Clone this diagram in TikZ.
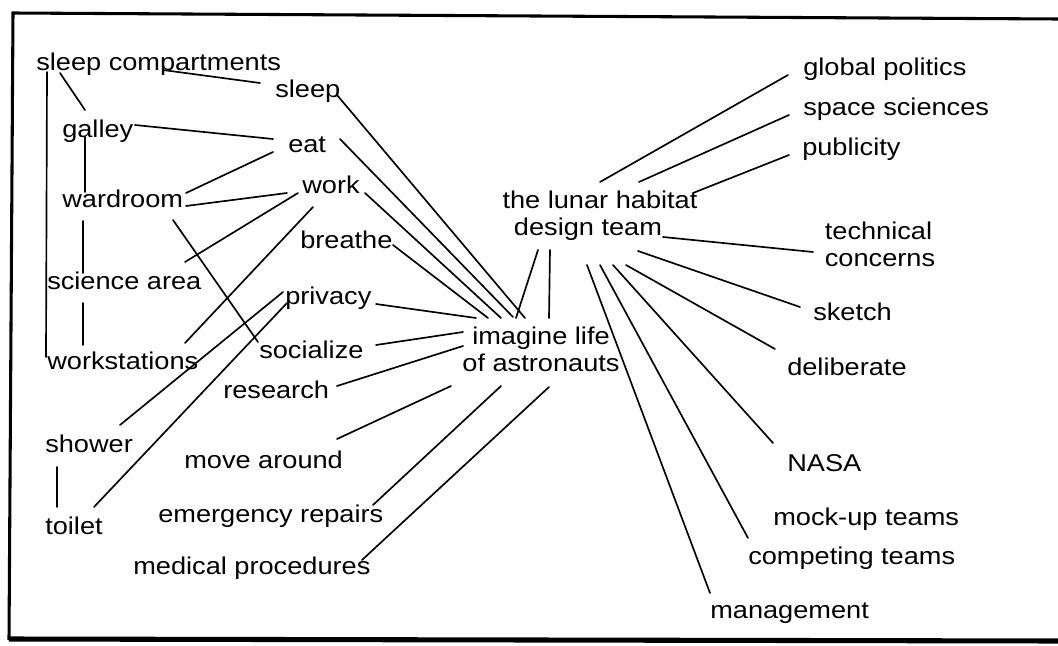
\documentclass[tikz,border=0pt]{standalone}
\usepackage{fontspec}
\setmainfont{Liberation Sans}[FakeStretch=1.12]
\begin{document}
\begin{tikzpicture}[x=0.75pt,y=-0.75pt,
  lbl/.style={inner sep=0pt,anchor=base west,font=\fontsize{18.2}{20.5}\selectfont},
  mlbl/.style={inner sep=0pt,anchor=center,font=\fontsize{18.2}{20.5}\selectfont},
  link/.style={line width=1.25pt,line cap=round},
  rim/.style={line width=2.3pt},
  heavyrim/.style={line width=3.8pt}]
\useasboundingbox (0,0) rectangle (1058,646);

% open frame: top, left and bottom rules
\draw[rim] (1058,19) -- (13,13) -- (9,640);
\draw[heavyrim] (9,639) -- (1058,641);

% left cluster: places and activities
\node[lbl] (sc) at (36,70) {sleep compartments};
\node[lbl] (sl) at (275,97) {sleep};
\node[lbl] (ga) at (62,137) {galley};
\node[lbl] (eat) at (288,152) {eat};
\node[lbl] (wr) at (62,207) {wardroom};
\node[lbl] (wk) at (302,193) {work};
\node[lbl] (br) at (300,248) {breathe};
\node[lbl] (sa) at (47,289) {science area};
\node[lbl] (pr) at (285,304) {privacy};
\node[lbl] (so) at (259,358) {socialize};
\node[lbl] (ws) at (47,369) {workstations};
\node[lbl] (rs) at (223,398) {research};
\node[lbl] (sh) at (45,452) {shower};
\node[lbl] (to) at (45,534) {toilet};
\node[lbl] (mv) at (184,468) {move around};
\node[lbl] (em) at (158,522) {emergency repairs};
\node[lbl] (md) at (133,574) {medical procedures};

% the two hubs
\node[mlbl,align=center] (im) at (541,349.5) {imagine life\\of astronauts};
\node[mlbl,align=center] (lh) at (600,215.5) {the lunar habitat\\design team\rule{18pt}{0pt}};

% right cluster: concerns of the team
\node[lbl] (gp) at (803,75) {global politics};
\node[lbl] (ss) at (803,115) {space sciences};
\node[lbl] (pu) at (802,155) {publicity};
\node[mlbl,align=left] (tc) at (880,244.5) {technical\\concerns};
\node[lbl] (sk) at (813,320) {sketch};
\node[lbl] (de) at (787,375) {deliberate};
\node[lbl] (na) at (787,471) {NASA};
\node[lbl] (mu) at (773,525) {mock-up teams};
\node[lbl] (ct) at (748,564) {competing teams};
\node[lbl] (mg) at (710,618) {management};

% links among places and activities
\draw[link] ([shift={(127,0)}]sc.base west) -- ([shift={(-15,-14)}]sl.base west);
\draw[link] ([shift={(24,3)}]sc.base west) -- ([shift={(23,-27)}]ga.base west);
\draw[link] ([shift={(11,2)}]sc.base west) -- ([shift={(-1,-12)}]ws.base west);
\draw[link] ([shift={(23,0)}]ga.base west) -- ([shift={(23,-15)}]wr.base west);
\draw[link] ([shift={(73,-12)}]ga.base west) -- ([shift={(-15,-13)}]eat.base west);
\draw[link] ([shift={(124,-14)}]wr.base west) -- ([shift={(-15,0)}]eat.base west);
\draw[link] ([shift={(124,-1)}]wr.base west) -- ([shift={(-15,0)}]wk.base west);
\draw[link] ([shift={(111,13)}]wr.base west) -- ([shift={(-1,-16)}]so.base west);
\draw[link] ([shift={(21,14)}]wr.base west) -- ([shift={(36,-16)}]sa.base west);
\draw[link] ([shift={(138,-27)}]sa.base west) -- ([shift={(-4,0)}]wk.base west);
\draw[link] ([shift={(36,14)}]sa.base west) -- ([shift={(36,-24)}]ws.base west);
\draw[link] ([shift={(138,-26)}]ws.base west) -- ([shift={(11,14)}]wk.base west);
\draw[link] ([shift={(75,-27)}]sh.base west) -- ([shift={(-2,-12)}]pr.base west);
\draw[link] ([shift={(49,-27)}]to.base west) -- ([shift={(2,-1)}]pr.base west);
\draw[link] ([shift={(12,15)}]sh.base west) -- ([shift={(12,-27)}]to.base west);

% activities to "imagine life of astronauts"
\draw[link] ([shift={(62,-2)}]sl.base west) -- ([shift={(-16,-31.5)}]im.center);
\draw[link] ([shift={(52,-13)}]eat.base west) -- ([shift={(-28,-32.5)}]im.center);
\draw[link] ([shift={(63,0)}]wk.base west) -- ([shift={(-40,-31.5)}]im.center);
\draw[link] ([shift={(93,-3)}]br.base west) -- ([shift={(-53,-31.5)}]im.center);
\draw[link] ([shift={(91,0)}]pr.base west) -- ([shift={(-65,-31.5)}]im.center);
\draw[link] ([shift={(117,-13)}]so.base west) -- ([shift={(-78,-17.5)}]im.center);
\draw[link] ([shift={(114,-12)}]rs.base west) -- ([shift={(-78,-3.5)}]im.center);
\draw[link] ([shift={(153,-29)}]mv.base west) -- ([shift={(-90,36.5)}]im.center);
\draw[link] ([shift={(215,-17)}]em.base west) -- ([shift={(-40,36.5)}]im.center);
\draw[link] ([shift={(229,-14)}]md.base west) -- ([shift={(8,37.5)}]im.center);

% hub to hub
\draw[link] ([shift={(-62,34.5)}]lh.center) -- ([shift={(-25,-31.5)}]im.center);
\draw[link] ([shift={(-50,34.5)}]lh.center) -- ([shift={(8,-31.5)}]im.center);

% team hub to its concerns
\draw[link] ([shift={(0,-33.5)}]lh.center) -- ([shift={(-15,0)}]gp.base west);
\draw[link] ([shift={(39,-33.5)}]lh.center) -- ([shift={(-14,0)}]ss.base west);
\draw[link] ([shift={(93,-22.5)}]lh.center) -- ([shift={(-13,0)}]pu.base west);
\draw[link] ([shift={(63,21.5)}]lh.center) -- ([shift={(-67,7.5)}]tc.center);
\draw[link] ([shift={(38,35.5)}]lh.center) -- ([shift={(-13,-13)}]sk.base west);
\draw[link] ([shift={(26,49.5)}]lh.center) -- ([shift={(-12,-26)}]de.base west);
\draw[link] ([shift={(13,49.5)}]lh.center) -- ([shift={(-14,-28)}]na.base west);
\draw[link] ([shift={(0,49.5)}]lh.center) -- ([shift={(0,-26)}]ct.base west);
\draw[link] ([shift={(-13,49.5)}]lh.center) -- ([shift={(0,-25)}]mg.base west);
\end{tikzpicture}
\end{document}
